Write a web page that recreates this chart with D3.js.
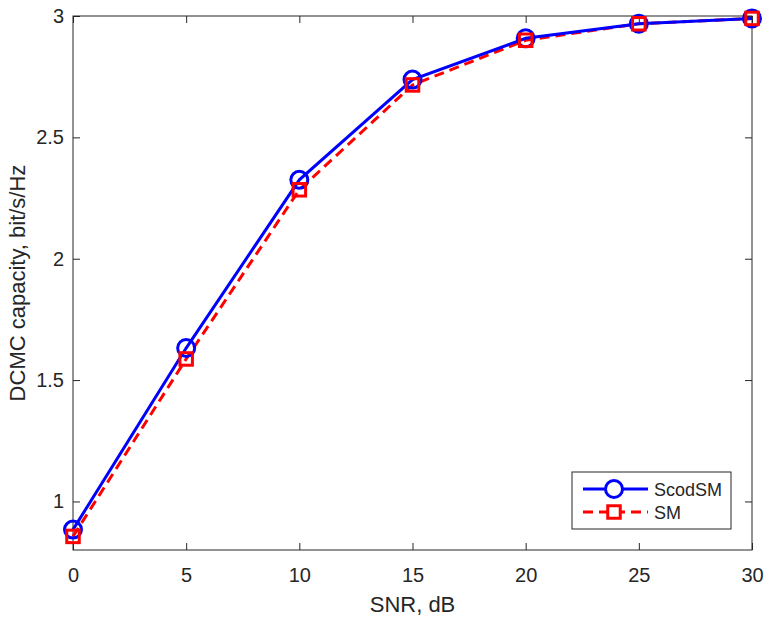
<!DOCTYPE html>
<html>
  <head>
    <meta charset="utf-8">
    <title>DCMC capacity</title>
    <script src="https://d3js.org/d3.v7.min.js"></script>
    <style>
      body { margin: 0; background: #fff; }
      text { font-family: "Liberation Sans", Arial, sans-serif; fill: #262626; }
    </style>
  </head>
  <body>
    <script>
      // data
      const snr = [0, 5, 10, 15, 20, 25, 30];
      const scodSM = [0.884, 1.632, 2.325, 2.738, 2.908, 2.968, 2.99];
      const sm = [0.856, 1.587, 2.284, 2.716, 2.9, 2.968, 2.99];
      const xTicks = [0, 5, 10, 15, 20, 25, 30];
      const yTicks = [1, 1.5, 2, 2.5, 3];

      const width = 771, height = 622;
      const plotL = 73, plotR = 752, plotT = 16, plotB = 550;
      const lw = 3;

      const svg = d3.select("body").append("svg")
        .attr("width", width)
        .attr("height", height);

      const x = d3.scaleLinear().domain([0, 30]).range([plotL, plotR]);
      const y = d3.scaleLinear().domain([0.8, 3]).range([plotB, plotT]);

      // axes, MATLAB style: inward ticks on all four sides
      const tickLen = 7;
      svg.append("g")
        .attr("transform", "translate(0," + plotB + ")")
        .call(d3.axisBottom(x).tickValues(xTicks).tickSizeInner(-tickLen).tickSizeOuter(0).tickPadding(18))
        .call(g => g.select(".domain").remove());
      svg.append("g")
        .attr("transform", "translate(0," + plotT + ")")
        .call(d3.axisTop(x).tickValues(xTicks).tickSizeInner(-tickLen).tickSizeOuter(0).tickFormat(""))
        .call(g => g.select(".domain").remove());
      svg.append("g")
        .attr("transform", "translate(" + plotL + ",0)")
        .call(d3.axisLeft(y).tickValues(yTicks).tickSizeInner(-tickLen).tickSizeOuter(0).tickPadding(9).tickFormat(d3.format("")))
        .call(g => g.select(".domain").remove());
      svg.append("g")
        .attr("transform", "translate(" + plotR + ",0)")
        .call(d3.axisRight(y).tickValues(yTicks).tickSizeInner(-tickLen).tickSizeOuter(0).tickFormat(""))
        .call(g => g.select(".domain").remove());

      svg.selectAll(".tick line").attr("stroke", "#262626");
      svg.selectAll(".tick text")
        .attr("font-size", 20)
        .attr("font-family", "Liberation Sans, Arial, sans-serif")
        .attr("fill", "#262626");

      svg.append("rect")
        .attr("x", plotL).attr("y", plotT)
        .attr("width", plotR - plotL).attr("height", plotB - plotT)
        .attr("fill", "none").attr("stroke", "#262626").attr("stroke-width", 1);

      // axis labels
      svg.append("text")
        .attr("x", (plotL + plotR) / 2).attr("y", 612)
        .attr("text-anchor", "middle").attr("font-size", 22)
        .text("SNR, dB");
      svg.append("text")
        .attr("transform", "translate(25," + (plotT + plotB) / 2 + ") rotate(-90)")
        .attr("text-anchor", "middle").attr("font-size", 22)
        .text("DCMC capacity, bit/s/Hz");

      const line = d3.line()
        .x((d, i) => x(snr[i]))
        .y(d => y(d));

      // SM (red dashed, squares)
      svg.append("path")
        .attr("d", line(sm))
        .attr("fill", "none").attr("stroke", "#ff0000")
        .attr("stroke-width", lw).attr("stroke-dasharray", "10,6");
      // ScodSM (blue solid, circles)
      svg.append("path")
        .attr("d", line(scodSM))
        .attr("fill", "none").attr("stroke", "#0000ff")
        .attr("stroke-width", lw);

      svg.selectAll("circle.scod")
        .data(scodSM)
        .enter().append("circle")
        .attr("class", "scod")
        .attr("cx", (d, i) => x(snr[i]))
        .attr("cy", d => y(d))
        .attr("r", 8.5)
        .attr("fill", "none").attr("stroke", "#0000ff").attr("stroke-width", lw);

      const sq = 12.5;
      svg.selectAll("rect.sm")
        .data(sm)
        .enter().append("rect")
        .attr("class", "sm")
        .attr("x", (d, i) => x(snr[i]) - sq / 2)
        .attr("y", d => y(d) - sq / 2)
        .attr("width", sq).attr("height", sq)
        .attr("fill", "none").attr("stroke", "#ff0000").attr("stroke-width", lw);

      // legend
      const lg = svg.append("g");
      lg.append("rect")
        .attr("x", 572).attr("y", 472).attr("width", 159).attr("height", 57)
        .attr("fill", "#fff").attr("stroke", "#262626").attr("stroke-width", 1);
      lg.append("line")
        .attr("x1", 583).attr("x2", 648).attr("y1", 489).attr("y2", 489)
        .attr("stroke", "#0000ff").attr("stroke-width", lw);
      lg.append("circle")
        .attr("cx", 614).attr("cy", 489).attr("r", 8.5)
        .attr("fill", "#fff").attr("stroke", "#0000ff").attr("stroke-width", lw);
      lg.append("line")
        .attr("x1", 583).attr("x2", 648).attr("y1", 512).attr("y2", 512)
        .attr("stroke", "#ff0000").attr("stroke-width", lw).attr("stroke-dasharray", "10,6");
      lg.append("rect")
        .attr("x", 614 - sq / 2).attr("y", 512 - sq / 2).attr("width", sq).attr("height", sq)
        .attr("fill", "#fff").attr("stroke", "#ff0000").attr("stroke-width", lw);
      lg.append("text")
        .attr("x", 654).attr("y", 496).attr("font-size", 18).text("ScodSM");
      lg.append("text")
        .attr("x", 654).attr("y", 519).attr("font-size", 18).text("SM");
    </script>
  </body>
</html>
